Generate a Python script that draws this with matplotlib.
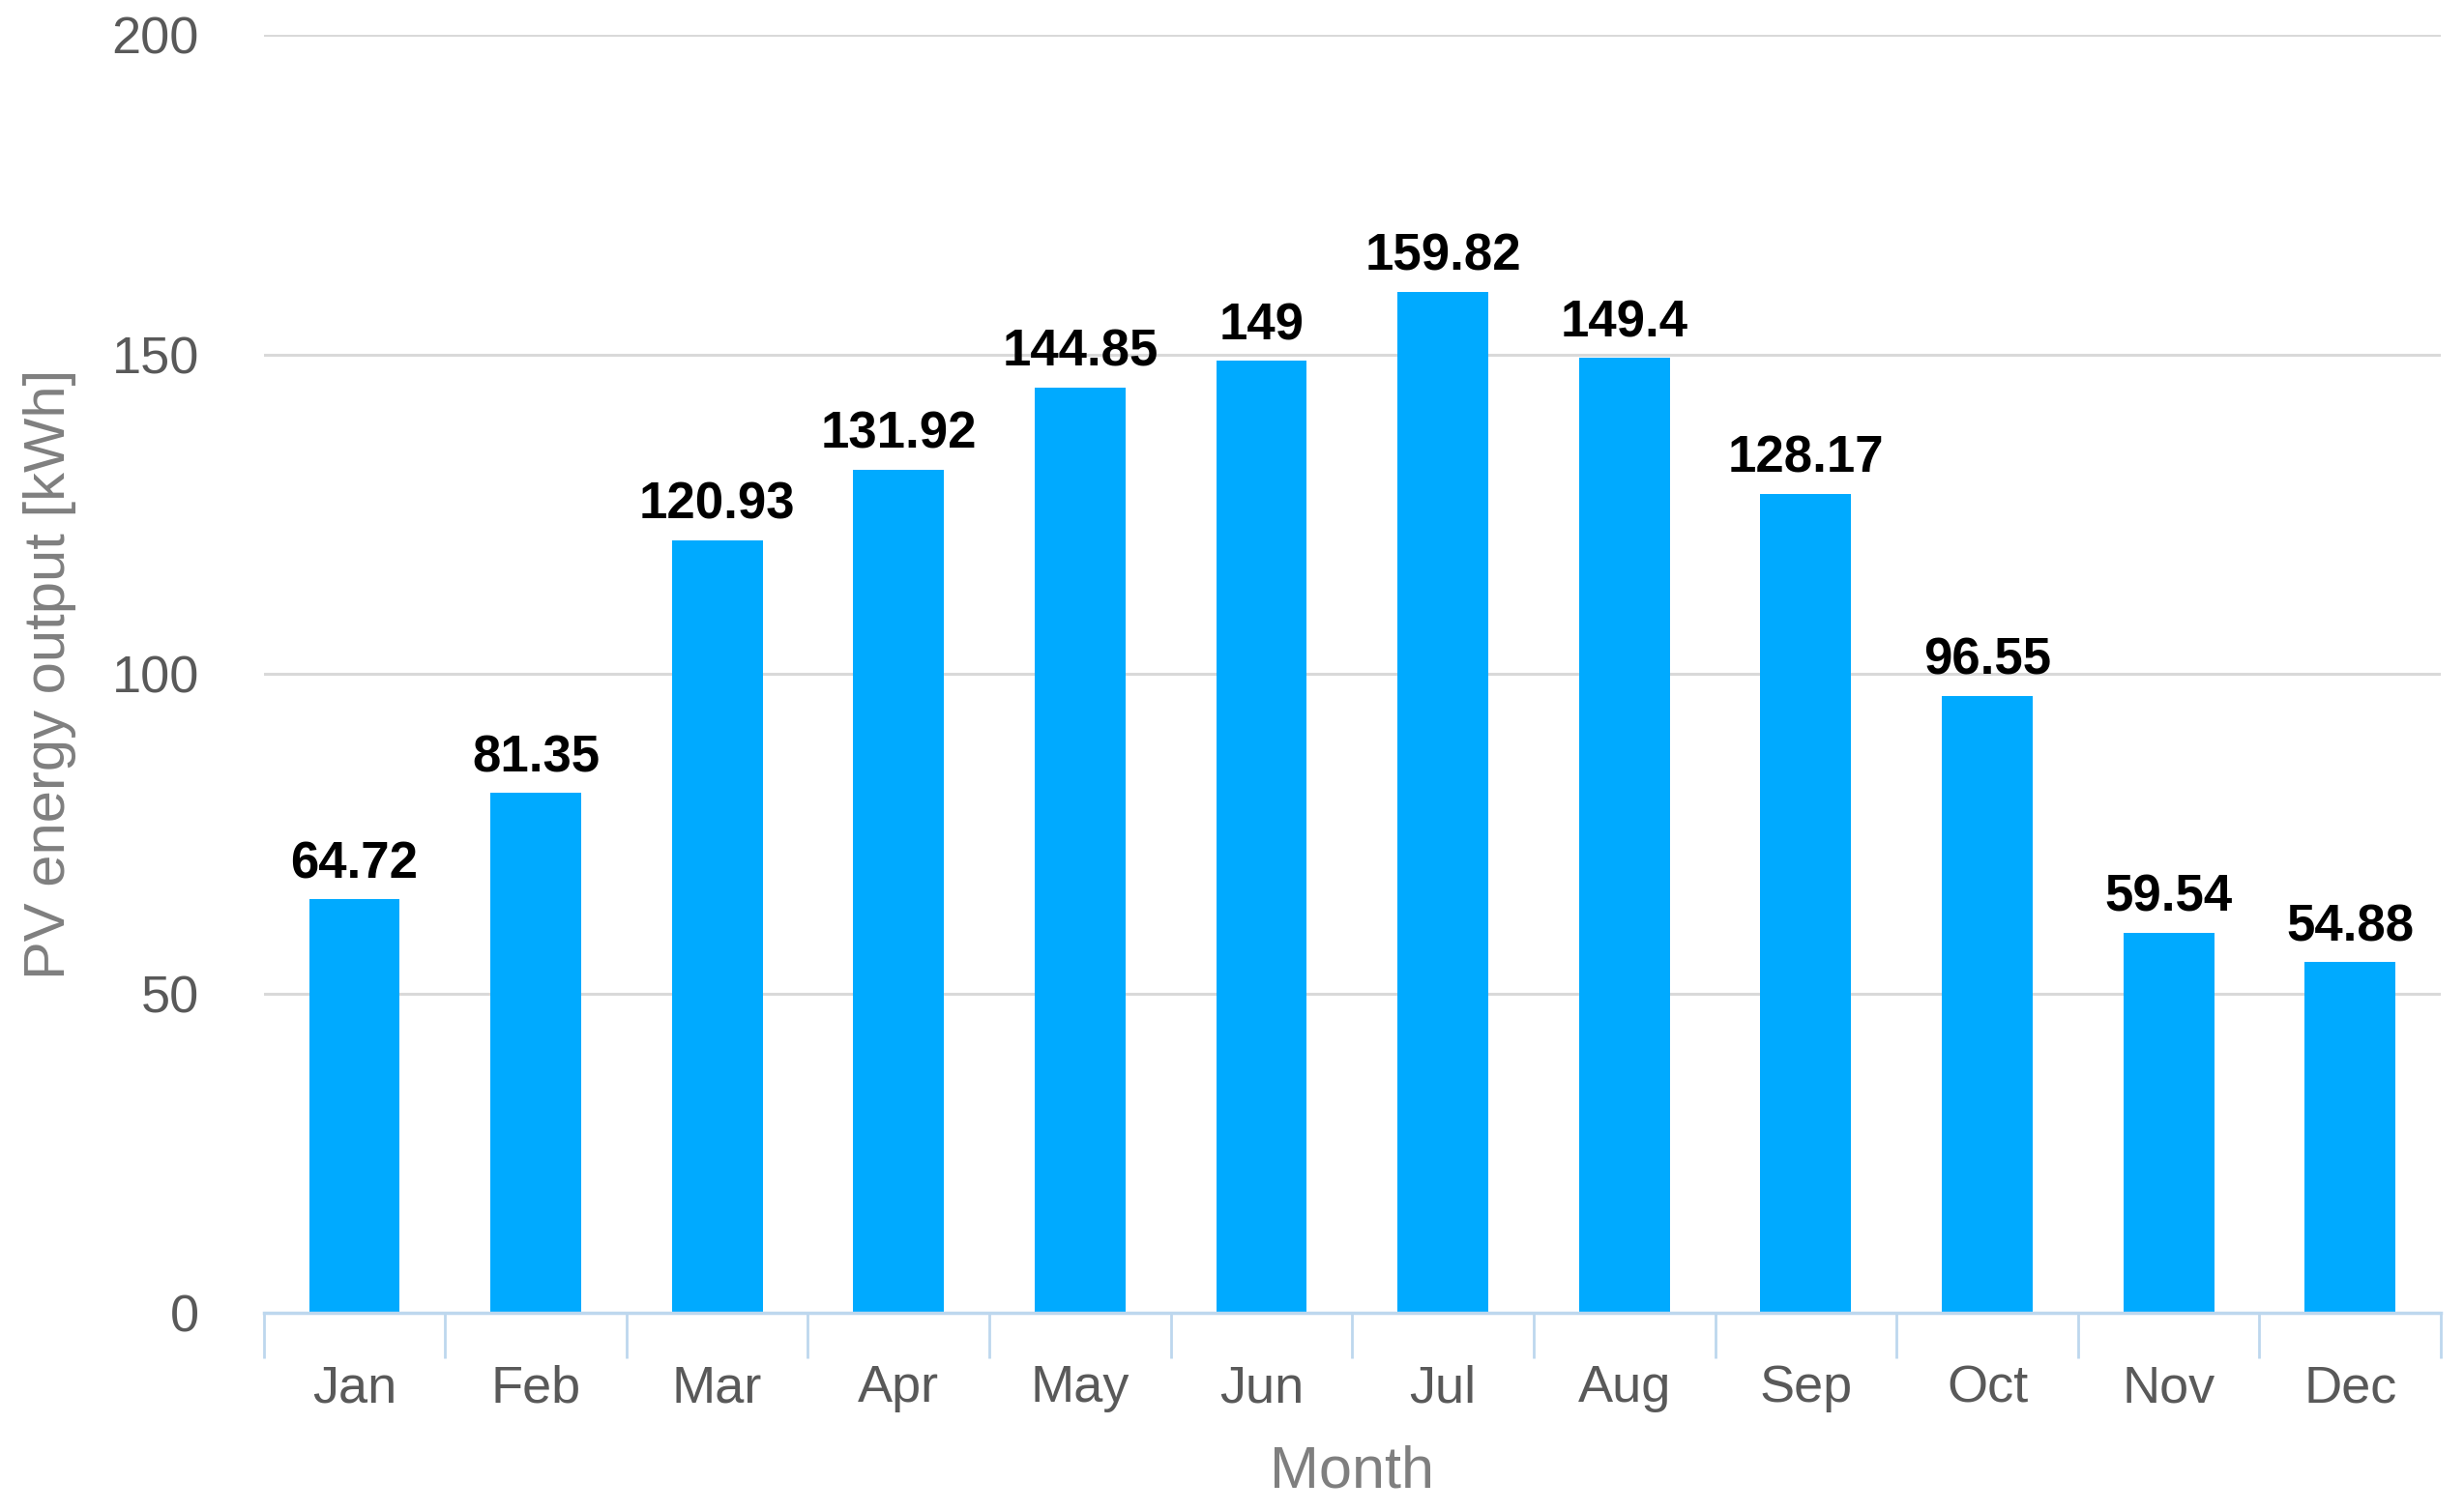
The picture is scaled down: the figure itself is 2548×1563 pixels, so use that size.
import matplotlib.pyplot as plt
import numpy as np

# Data
months = ['Jan', 'Feb', 'Mar', 'Apr', 'May', 'Jun', 'Jul', 'Aug', 'Sep', 'Oct', 'Nov', 'Dec']
output_kwh = [64.72, 81.35, 120.93, 131.92, 144.85, 149, 159.82, 149.4, 128.17, 96.55, 59.54, 54.88]
value_labels = ['64.72', '81.35', '120.93', '131.92', '144.85', '149', '159.82', '149.4',
                '128.17', '96.55', '59.54', '54.88']
y_ticks = [0, 50, 100, 150, 200]

plt.rcParams['font.family'] = ['Liberation Sans', 'DejaVu Sans']

fig = plt.figure(figsize=(25.48, 15.63), dpi=100)
ax = fig.add_axes([0.107, 0.131, 0.8836, 0.846])

x = np.arange(len(months))
ax.bar(x, output_kwh, width=0.5, color='#00AAFF', zorder=3)

# value labels on top of each bar
for xi, v, lab in zip(x, output_kwh, value_labels):
    ax.annotate(lab, (xi, v), xytext=(0, 8), textcoords='offset points',
                ha='center', va='bottom', fontsize=38, fontweight='bold', color='black')

ax.set_xlim(-0.5, len(months) - 0.5)
ax.set_ylim(0, 200)
ax.set_yticks(y_ticks)
ax.yaxis.grid(True, color='#D9D9D9', linewidth=2.2, zorder=0)
ax.tick_params(axis='y', length=0, pad=48, labelsize=39, labelcolor='#595959')

# category labels at centers, tick marks at boundaries
ax.set_xticks(x)
ax.set_xticklabels(months)
ax.set_xticks(np.arange(-0.5, len(months)), minor=True)
ax.tick_params(axis='x', which='major', length=0, pad=38, labelsize=39, labelcolor='#595959')
ax.tick_params(axis='x', which='minor', length=34, width=2, color='#BDD7EE')

for s in ['top', 'right', 'left']:
    ax.spines[s].set_visible(False)
ax.spines['bottom'].set_color('#BDD7EE')
ax.spines['bottom'].set_linewidth(2.5)
ax.spines['bottom'].set_zorder(4)

ax.set_xlabel('Month', fontsize=44, color='#7F7F7F', labelpad=24)
ax.set_ylabel('PV energy output [kWh]', fontsize=43, color='#7F7F7F', labelpad=26)

plt.savefig('out.png', dpi=100)
